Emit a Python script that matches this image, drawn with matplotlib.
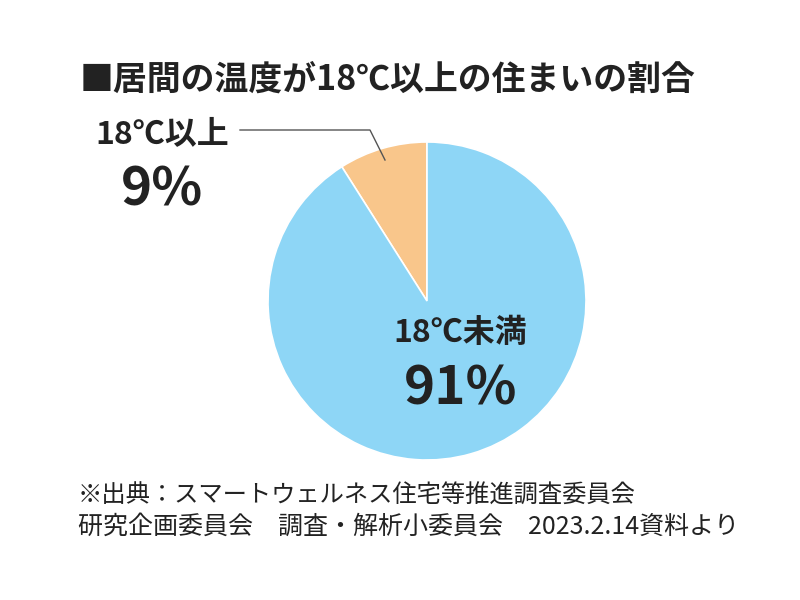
import matplotlib
matplotlib.use("Agg")
import matplotlib.pyplot as plt

plt.rcParams['font.family'] = ['Noto Sans CJK JP', 'DejaVu Sans']

title = "■居間の温度が18℃以上の住まいの割合"
labels = ["18℃以上", "18℃未満"]
values = [9, 91]
pct_labels = ["9%", "91%"]
colors = ["#F9C68B", "#8ED6F6"]
source_lines = ["※出典：スマートウェルネス住宅等推進調査委員会",
                "研究企画委員会　調査・解析小委員会　2023.2.14資料より"]

W, H = 800, 600
fig = plt.figure(figsize=(8, 6), dpi=100)
ax = fig.add_axes([0, 0, 1, 1])
ax.set_xlim(0, W)
ax.set_ylim(0, H)
ax.set_aspect('equal')
ax.axis('off')

cx, cy, r = 427, H - 301, 159
ax.pie(values, colors=colors, startangle=90, counterclock=True,
       center=(cx, cy), radius=r, frame=True,
       wedgeprops=dict(edgecolor='white', linewidth=1.2))
ax.set_xlim(0, W)
ax.set_ylim(0, H)
ax.axis('off')

tc = "#222222"
ax.text(80, H - 79, title, fontsize=24.4, fontweight='bold', color=tc,
        ha='left', va='center')

# small slice label
ax.text(162, H - 134, labels[0], fontsize=23, fontweight='bold', color=tc,
        ha='center', va='center')
ax.text(162, H - 190, pct_labels[0], fontsize=38, fontweight='bold', color=tc,
        ha='center', va='center')
ax.plot([240, 370, 385], [H - 130, H - 130, H - 160], color='#555555', lw=1)

# large slice label
ax.text(460, H - 333, labels[1], fontsize=23, fontweight='bold', color=tc,
        ha='center', va='center')
ax.text(461, H - 389, pct_labels[1], fontsize=38, fontweight='bold', color=tc,
        ha='center', va='center')

ax.text(78, H - 496, source_lines[0], fontsize=17.5, color=tc, ha='left', va='center')
ax.text(78, H - 527, source_lines[1], fontsize=18, color=tc, ha='left', va='center')

fig.savefig("out.png", dpi=100, facecolor='white')
